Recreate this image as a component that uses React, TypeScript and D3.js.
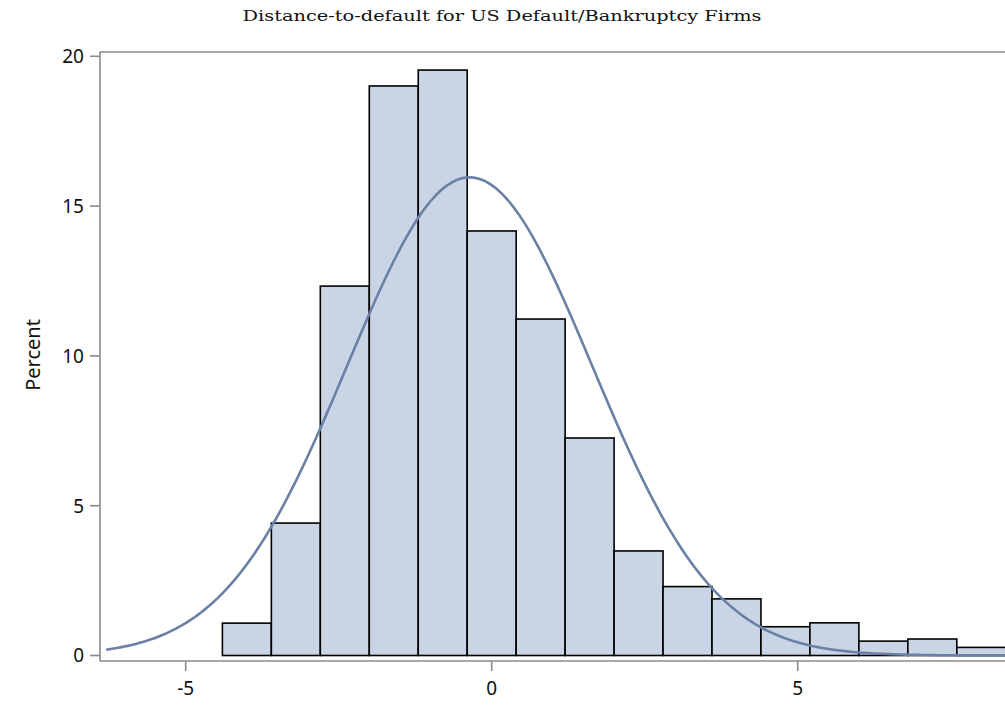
import React from "react";
import * as d3 from "d3";

const binStarts = [-4.4, -3.6, -2.8, -2.0, -1.2, -0.4, 0.4, 1.2, 2.0, 2.8, 3.6, 4.4, 5.2, 6.0, 6.8, 7.6];
const binPercents = [1.08, 4.42, 12.33, 19.01, 19.54, 14.17, 11.23, 7.26, 3.49, 2.30, 1.89, 0.96, 1.09, 0.48, 0.55, 0.27];
const binWidth = 0.8;
const normalMean = -0.36;
const normalSd = 2.0;
const xTicks = [-5, 0, 5];
const yTicks = [0, 5, 10, 15, 20];
const titleText = "Distance-to-default for US Default/Bankruptcy Firms";
const yLabel = "Percent";

export default function App() {
  const W = 1005, H = 705;
  const left = 100, right = 1007, top = 52, axisBottom = 661;
  const x = d3.scaleLinear().domain([-6.4, 8.42]).range([left, right]);
  const y = d3.scaleLinear().domain([0, 20]).range([655.5, 56.3]);

  const curveXs = d3.range(-6.3, 8.45, 0.05);
  const density = (v: number) =>
    (binWidth * 100) / (normalSd * Math.sqrt(2 * Math.PI)) *
    Math.exp(-0.5 * ((v - normalMean) / normalSd) ** 2);
  const line = d3.line<number>().x((v) => x(v)).y((v) => y(density(v)));

  const gray = "#8a8a8a";
  const sans = "'Noto Sans', 'Open Sans', sans-serif";

  return (
    <svg width={W} height={H} style={{ position: "absolute", left: 0, top: 0, background: "#fff" }}>
      <text x={502} y={21} textAnchor="middle" fontFamily="'DejaVu Serif', serif" fontSize={15}
        textLength={519} lengthAdjust="spacingAndGlyphs" fill="#111">{titleText}</text>
      {/* frame */}
      <line x1={left} x2={right} y1={top} y2={top} stroke={gray} strokeWidth={1.6} />
      <line x1={left} x2={left} y1={top} y2={axisBottom} stroke={gray} strokeWidth={1.6} />
      <line x1={left} x2={right} y1={axisBottom} y2={axisBottom} stroke={gray} strokeWidth={1.6} />
      {/* bars */}
      {binStarts.map((s, i) => (
        <rect key={i} x={x(s)} y={y(binPercents[i])} width={x(s + binWidth) - x(s)}
          height={y(0) - y(binPercents[i])} fill="#c9d5e5" stroke="#000" strokeWidth={1.6} />
      ))}
      <path d={line(curveXs) || ""} fill="none" stroke="#6a80a6" strokeWidth={2.6} />
      {/* y ticks */}
      {yTicks.map((t) => (
        <g key={t}>
          <line x1={left - 10} x2={left} y1={y(t)} y2={y(t)} stroke={gray} strokeWidth={1.6} />
          <text x={84} y={y(t)} dy="0.36em" textAnchor="end" fontFamily={sans} fontSize={19} fill="#111">{t}</text>
        </g>
      ))}
      {/* x ticks */}
      {xTicks.map((t) => (
        <g key={t}>
          <line x1={x(t)} x2={x(t)} y1={axisBottom} y2={axisBottom + 10} stroke={gray} strokeWidth={1.6} />
          <text x={x(t)} y={695} textAnchor="middle" fontFamily={sans} fontSize={19} fill="#111">{t}</text>
        </g>
      ))}
      <text transform="translate(40,355) rotate(-90)" textAnchor="middle" fontFamily={sans} fontSize={20} fill="#111">{yLabel}</text>
    </svg>
  );
}
